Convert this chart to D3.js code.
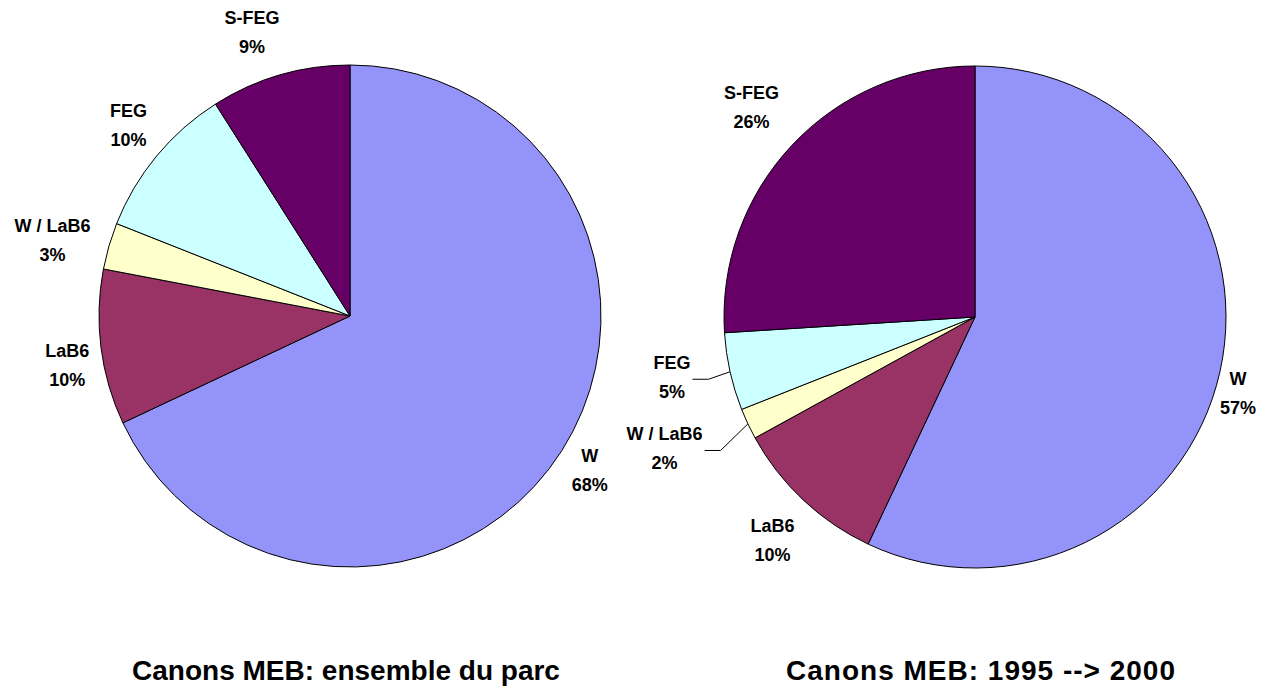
<!DOCTYPE html>
<html>
<head>
<meta charset="utf-8">
<script src="https://cdn.jsdelivr.net/npm/d3@7"></script>
<style>
  html, body { margin: 0; padding: 0; background: #ffffff; }
  svg { display: block; }
  text { font-family: "Liberation Sans", Arial, sans-serif; font-weight: bold; fill: #000; }
</style>
</head>
<body>
<svg id="chart" width="1284" height="699"></svg>
<script>
// Electron gun types (MEB) and their share, in percent
const categories = ["W", "LaB6", "W / LaB6", "FEG", "S-FEG"];
const parcValues = [68, 10, 3, 10, 9];        // whole installed base
const recentValues = [57, 10, 2, 5, 26];      // 1995 --> 2000
const titles = ["Canons MEB: ensemble du parc", "Canons MEB: 1995 --> 2000"];

const colors = ["#9393f9", "#993366", "#ffffcc", "#ccffff", "#660066"];

// Layout of each pie: centre, radius, label distance and per-label nudges
const layouts = [
  {
    cx: 350, cy: 316, r: 251, labelR: 290, titleX: 346,
    nudges: [[-5, 0], [5, 14], [-19, 6], [2, -5], [-17, -5]],
    leaders: [false, false, false, false, false]
  },
  {
    cx: 975, cy: 317, r: 251, labelR: 290, titleX: 981,
    nudges: [[-20, 14], [-4, 13], [-48, 9], [-20, -2], [-12, -10]],
    leaders: [false, false, true, true, false]
  }
];

const svg = d3.select("#chart");
const color = d3.scaleOrdinal().domain(categories).range(colors);
const pie = d3.pie().sort(null).value(d => d.value);

[parcValues, recentValues].forEach((values, i) => {
  const L = layouts[i];
  const data = categories.map((c, k) => ({ name: c, value: values[k], k }));
  const arcs = pie(data);
  const arc = d3.arc().innerRadius(0).outerRadius(L.r);

  const g = svg.append("g").attr("transform", `translate(${L.cx},${L.cy})`);

  g.selectAll("path.slice")
    .data(arcs)
    .join("path")
    .attr("class", "slice")
    .attr("d", arc)
    .attr("fill", d => color(d.data.name))
    .attr("stroke", "#000")
    .attr("stroke-width", 1)
    .attr("stroke-linejoin", "round");

  arcs.forEach(d => {
    const mid = (d.startAngle + d.endAngle) / 2;
    const sx = Math.sin(mid), sy = -Math.cos(mid);
    const [nx, ny] = L.nudges[d.data.k];
    const lx = sx * L.labelR + nx;
    const ly = sy * L.labelR + ny;

    const t = g.append("text")
      .attr("text-anchor", "middle")
      .attr("font-size", 18);
    t.append("tspan").attr("x", lx).attr("y", ly - 9).text(d.data.name);
    t.append("tspan").attr("x", lx).attr("y", ly + 20).text(d.value + "%");

    if (L.leaders[d.data.k]) {
      // leader line from the label's right side to the slice's rim
      const box = t.node().getBBox();
      const ex = sx * L.r, ey = sy * L.r;
      const x0 = box.x + box.width + 2;
      const y0 = ly + 1;
      g.append("path")
        .attr("d", d3.line()([[x0, y0], [x0 + 16, y0], [ex, ey]]))
        .attr("fill", "none")
        .attr("stroke", "#000")
        .attr("stroke-width", 1);
    }
  });

  svg.append("text")
    .attr("x", L.titleX)
    .attr("y", 680)
    .attr("text-anchor", "middle")
    .attr("font-size", 28)
    .attr("letter-spacing", i === 1 ? 1 : 0)
    .text(titles[i]);
});
</script>
</body>
</html>
